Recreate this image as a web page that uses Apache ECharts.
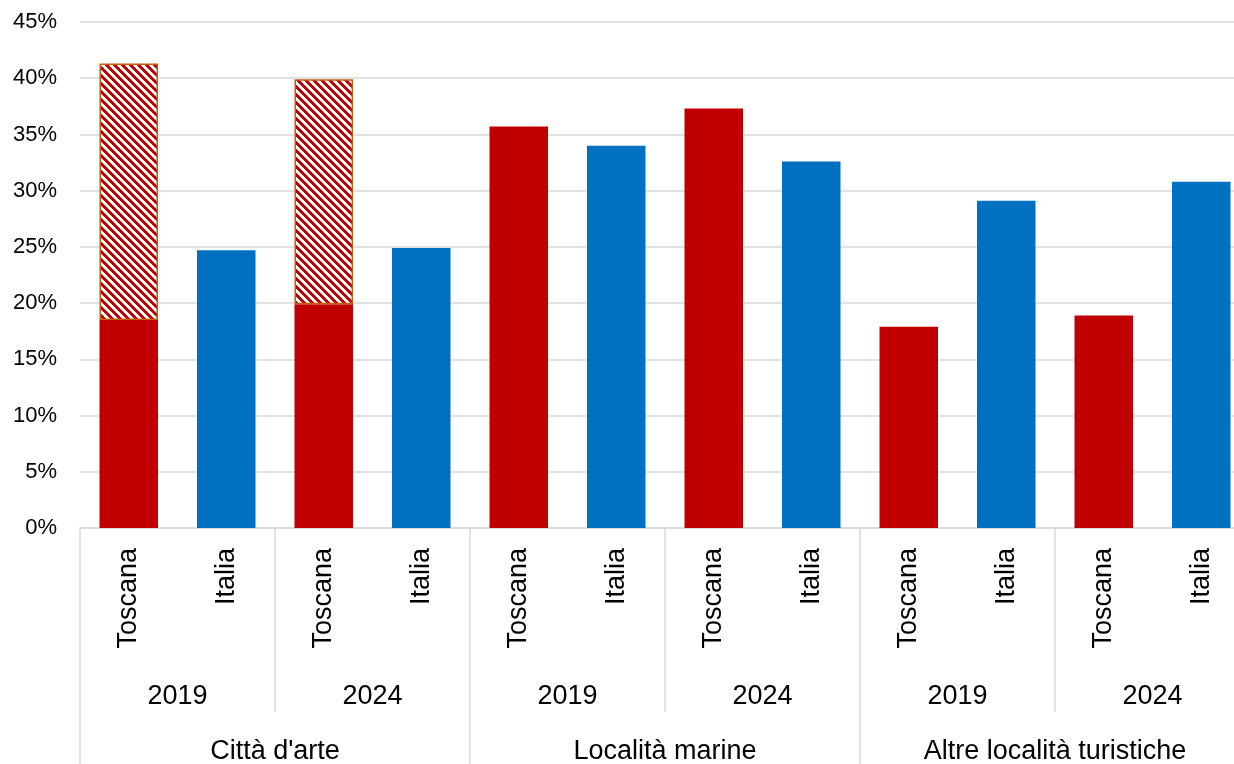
<!DOCTYPE html>
<html>
<head>
<meta charset="utf-8">
<script src="https://cdn.jsdelivr.net/npm/echarts@6/dist/echarts.min.js"></script>
<style>html,body{margin:0;padding:0;background:#fff;}#c{width:1234px;height:764px;}</style>
</head>
<body>
<div id="c"></div>
<script>
// Data
const categories = ["Toscana","Italia","Toscana","Italia","Toscana","Italia","Toscana","Italia","Toscana","Italia","Toscana","Italia"];
const years = ["2019","2024","2019","2024","2019","2024"];
const groups = ["Città d'arte","Località marine","Altre località turistiche"];
const toscana = [18.5, '-', 19.9, '-', 35.7, '-', 37.3, '-', 17.9, '-', 18.9, '-'];
const toscanaTotal = [41.3, '-', 39.9, '-', '-', '-', '-', '-', '-', '-', '-', '-'];
const italia = ['-', 24.7, '-', 24.9, '-', 34.0, '-', 32.6, '-', 29.1, '-', 30.8];
const yTicks = [0,5,10,15,20,25,30,35,40,45];

const hatch = toscanaTotal.map((t, i) => (t === '-' ? '-' : +(t - toscana[i]).toFixed(2)));

// hatch pattern
const pc = document.createElement('canvas');
pc.width = 8; pc.height = 8;
const px = pc.getContext('2d');
px.fillStyle = '#ffffff'; px.fillRect(0,0,8,8);
px.fillStyle = '#C00000';
for (let y = 0; y < 8; y++) {
  for (let x = 0; x < 8; x++) {
    if (((x - y) % 8 + 8) % 8 < 4) px.fillRect(x, y, 1, 1);
  }
}

const font = 'Liberation Sans, Arial, sans-serif';
const xfs = 27;
const chart = echarts.init(document.getElementById('c'), null, {renderer:'canvas'});
chart.setOption({
  animation: false,
  grid: {left: 80, right: -16, top: 22, bottom: 236, containLabel: false, outerBoundsMode: 'none'},
  xAxis: [
    {
      type: 'category', data: categories, position: 'bottom',
      axisLine: {show: true, lineStyle: {color: '#d9d9d9', width: 1.5}},
      axisTick: {show: false},
      axisLabel: {rotate: 90, margin: 20, color: '#000', fontSize: xfs, fontFamily: font, interval: 0}
    },
    {
      type: 'category', data: years, position: 'bottom',
      axisLine: {show: false},
      axisTick: {show: true, interval: 0, length: 184, lineStyle: {color: '#d9d9d9', width: 1.5}},
      axisLabel: {margin: 155, color: '#000', fontSize: xfs, fontFamily: font, interval: 0},
      splitLine: {show: false}
    },
    {
      type: 'category', data: groups, position: 'bottom',
      axisLine: {show: false},
      axisTick: {show: true, interval: 0, length: 236, lineStyle: {color: '#d9d9d9', width: 1.5}},
      axisLabel: {margin: 210, color: '#000', fontSize: xfs, fontFamily: font, interval: 0},
      splitLine: {show: false}
    }
  ],
  yAxis: {
    type: 'value', min: 0, max: 45, interval: 5,
    axisLine: {show: false}, axisTick: {show: false},
    axisLabel: {formatter: v => yTicks.includes(v) ? v + '%' : '', color: '#000', fontSize: 22, fontFamily: font, margin: 23},
    splitLine: {lineStyle: {color: '#d9d9d9', width: 1.5}}
  },
  series: [
    {
      name: 'Toscana', type: 'bar', stack: 't', data: toscana, xAxisIndex: 0,
      barWidth: '60%', barGap: '-100%',
      itemStyle: {color: '#C00000'}
    },
    {
      name: 'Toscana hatch', type: 'bar', stack: 't', data: hatch, xAxisIndex: 0,
      barWidth: '60%', barGap: '-100%',
      itemStyle: {color: {image: pc, repeat: 'repeat'}, borderColor: '#C55A11', borderWidth: 1.5}
    },
    {
      name: 'Italia', type: 'bar', data: italia, xAxisIndex: 0,
      barWidth: '60%', barGap: '-100%',
      itemStyle: {color: '#0070C0'}
    }
  ]
});
</script>
</body>
</html>
